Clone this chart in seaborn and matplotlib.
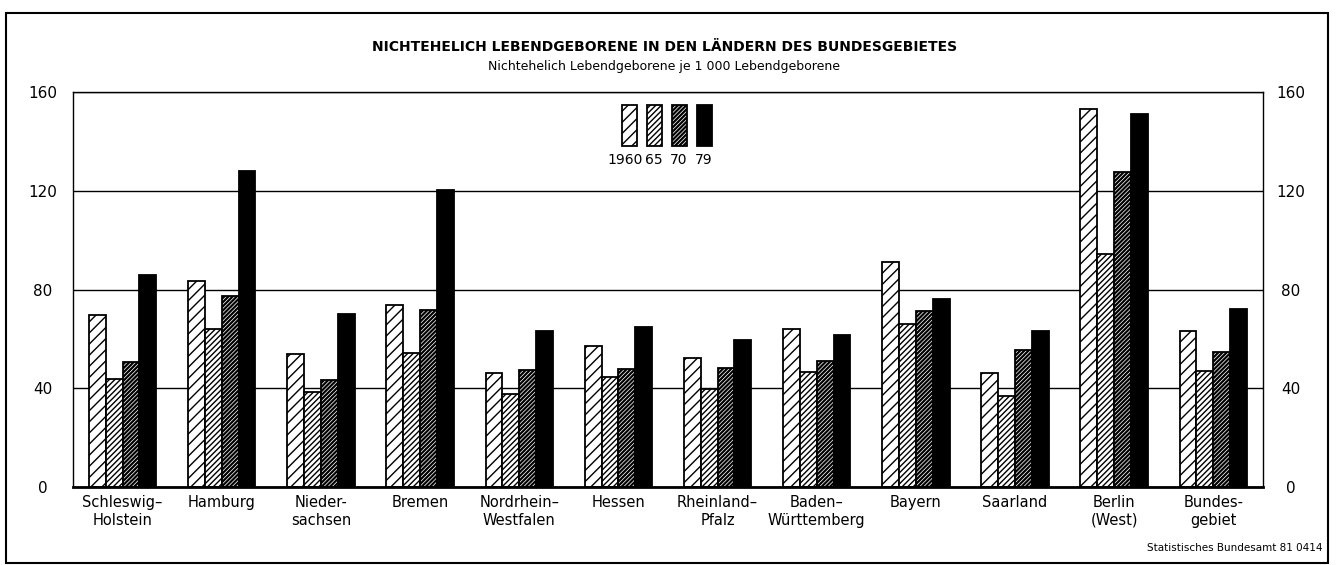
"""Nichteheliche Lebendgeborene in den Laendern des Bundesgebietes"""
import matplotlib
matplotlib.use("Agg")
import matplotlib.pyplot as plt
from matplotlib.patches import Rectangle
import seaborn as sns
import pandas as pd

# Data (per 1000 live births)
lander = ["Schleswig–\nHolstein", "Hamburg", "Nieder-\nsachsen", "Bremen",
          "Nordrhein–\nWestfalen", "Hessen", "Rheinland–\nPfalz",
          "Baden–\nWürttemberg", "Bayern", "Saarland", "Berlin\n(West)",
          "Bundes-\ngebiet"]
jahre = ["1960", "65", "70", "79"]
werte_1960 = [69.5, 83.4, 54.0, 73.6, 46.3, 57.2, 52.2, 64.1, 91.1, 46.2, 153.2, 63.3]
werte_1965 = [43.9, 64.1, 38.5, 54.4, 37.8, 44.5, 39.8, 46.7, 66.2, 36.8, 94.3, 47.1]
werte_1970 = [50.6, 77.2, 43.5, 71.8, 47.5, 47.8, 48.1, 51.2, 71.2, 55.7, 127.5, 54.8]
werte_1979 = [85.7, 128.2, 70.2, 120.4, 63.2, 64.8, 59.6, 61.6, 76.2, 63.3, 151.2, 72.2]
y_ticks = [0, 40, 80, 120, 160]

sns.set_style("white")
plt.rcParams["font.family"] = ["Liberation Sans Narrow", "DejaVu Sans"]
plt.rcParams["text.color"] = "black"
plt.rcParams["xtick.color"] = "black"
plt.rcParams["ytick.color"] = "black"
plt.rcParams["hatch.linewidth"] = 1.0

df = pd.DataFrame({
    "land": lander * 4,
    "jahr": [j for j in jahre for _ in lander],
    "wert": werte_1960 + werte_1965 + werte_1970 + werte_1979,
})

fig = plt.figure(figsize=(13.37, 5.65), dpi=100)
ax = fig.add_axes([0.0546, 0.138, 0.890, 0.699])

fills = ["white", "white", "white", "black"]
hatches = ["///", "//////", "////////", None]
hatch_lw = [1.0, 1.0, 1.6, 1.0]

sns.barplot(data=df, x="land", y="wert", hue="jahr", hue_order=jahre,
            palette=fills, saturation=1, width=0.68, edgecolor="black",
            linewidth=1.3, legend=False, ax=ax, zorder=2)

for cont, h, hl in zip(ax.containers, hatches, hatch_lw):
    for bar in cont:
        if h:
            bar.set_hatch(h)
            if hasattr(bar, "set_hatch_linewidth"):
                bar.set_hatch_linewidth(hl)

ax.set_xlim(-0.5, len(lander) - 0.5)
ax.set_ylim(0, 160)
ax.set_yticks(y_ticks)
ax.set_xlabel("")
ax.set_ylabel("")
ax.grid(axis="y", color="black", linewidth=1)
ax.grid(axis="x", visible=False)
ax.set_axisbelow(True)
ax.tick_params(axis="x", length=0, pad=6, labelsize=10.5)
ax.tick_params(axis="y", length=0, pad=22, labelsize=11)
for lbl in ax.get_yticklabels():
    lbl.set_ha("center")
for side in ["left", "top", "right"]:
    ax.spines[side].set_color("black")
    ax.spines[side].set_linewidth(1.0)
ax.spines["bottom"].set_color("black")
ax.spines["bottom"].set_linewidth(2.0)

# right-hand scale
ax2 = ax.twinx()
ax2.set_ylim(0, 160)
ax2.set_yticks(y_ticks)
ax2.tick_params(axis="y", length=0, pad=20, labelsize=11)
for lbl in ax2.get_yticklabels():
    lbl.set_ha("center")
for s in ax2.spines.values():
    s.set_visible(False)

# legend boxes drawn by hand, labels underneath
x0, step, bw = 0.461, 0.021, 0.0126
for i, (j, fc, h, hl) in enumerate(zip(jahre, fills, hatches, hatch_lw)):
    box = Rectangle((x0 + i * step, 0.863), bw, 0.104,
                    transform=ax.transAxes, facecolor=fc,
                    edgecolor="black", linewidth=1.3, hatch=h, zorder=3)
    if h and hasattr(box, "set_hatch_linewidth"):
        box.set_hatch_linewidth(hl)
    ax.add_patch(box)
    if i == 0:
        ax.text(x0 + bw + 0.005, 0.828, j, transform=ax.transAxes,
                ha="right", va="center", fontsize=10)
    else:
        ax.text(x0 + i * step + bw / 2, 0.828, j, transform=ax.transAxes,
                ha="center", va="center", fontsize=10)

fig.text(0.497, 0.917, "NICHTEHELICH LEBENDGEBORENE IN DEN LÄNDERN DES BUNDESGEBIETES",
         ha="center", va="center", fontsize=10, fontweight="bold")
fig.text(0.497, 0.883, "Nichtehelich Lebendgeborene je 1 000 Lebendgeborene",
         ha="center", va="center", fontsize=9)
fig.text(0.989, 0.030, "Statistisches Bundesamt 81 0414",
         ha="right", va="center", fontsize=7.5)

# outer frame
fig.add_artist(Rectangle((0.0045, 0.004), 0.9888, 0.973, transform=fig.transFigure,
                         fill=False, edgecolor="black", linewidth=1.5))

fig.savefig("out.png", dpi=100)
